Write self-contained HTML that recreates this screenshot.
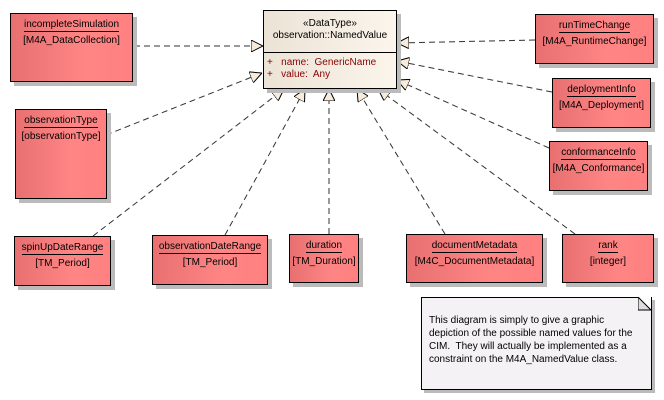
<!DOCTYPE html>
<html><head><meta charset="utf-8"><style>
body{margin:0;width:664px;height:400px;background:#fff;position:relative;overflow:hidden;font-family:"Liberation Sans",sans-serif;}
.b{position:absolute;border:1px solid #000;background:linear-gradient(90deg,#e87070,#ff8585 60%,#ff8080);box-shadow:4px 4px 0 #bbb;text-align:center;font-size:10px;color:#000;box-sizing:border-box;}
.b .t{display:inline-block;border-bottom:1px solid #000;margin-top:5px;line-height:12px;}
.b .s{margin-top:3px;line-height:12px;}
svg{position:absolute;left:0;top:0;}
</style></head><body>
<svg width="664" height="400">
<defs><marker id="a" viewBox="0 0 12 12" refX="12" refY="6" markerWidth="12" markerHeight="12" markerUnits="userSpaceOnUse" orient="auto"><path d="M0,0 L12,6 L0,12 Z" fill="#f7ecdc" stroke="#000" stroke-width="1"/></marker></defs>
<g stroke="#333" stroke-width="1" stroke-dasharray="6,4" fill="none" marker-end="url(#a)">
<line x1="134" y1="46" x2="263" y2="46"/>
<line x1="106" y1="135" x2="262" y2="73"/>
<line x1="93" y1="236" x2="284" y2="89"/>
<line x1="225" y1="235" x2="305" y2="89"/>
<line x1="329" y1="234" x2="329" y2="89"/>
<line x1="445" y1="234" x2="357" y2="89"/>
<line x1="575" y1="234" x2="378" y2="89"/>
<line x1="549" y1="148" x2="397" y2="80"/>
<line x1="552" y1="92" x2="397" y2="61"/>
<line x1="535" y1="40" x2="397" y2="43"/>
</g>
</svg>
<div style="position:absolute;left:263px;top:10px;width:134px;height:79px;border:1px solid #000;background:linear-gradient(90deg,#ece3d6,#fbf5ec);box-shadow:4px 4px 0 #bbb;box-sizing:border-box;font-size:10px;">
<div style="text-align:center;height:42px;border-bottom:1px solid #000;line-height:12px;padding-top:7px;box-sizing:border-box;">«DataType»<br>observation::NamedValue</div>
<div style="color:#8b0000;padding:4px 0 0 3px;line-height:12px;">+&nbsp;&nbsp;&nbsp;name:&nbsp; GenericName<br>+&nbsp;&nbsp;&nbsp;value:&nbsp; Any</div>
</div>
<div class="b" style="left:10px;top:13px;width:123px;height:69px"><div class="t">incompleteSimulation</div><div class="s">[M4A_DataCollection]</div></div>
<div class="b" style="left:535px;top:14px;width:119px;height:50px"><div class="t">runTimeChange</div><div class="s">[M4A_RuntimeChange]</div></div>
<div class="b" style="left:552px;top:78px;width:99px;height:50px"><div class="t">deploymentInfo</div><div class="s">[M4A_Deployment]</div></div>
<div class="b" style="left:549px;top:141px;width:99px;height:50px"><div class="t">conformanceInfo</div><div class="s">[M4A_Conformance]</div></div>
<div class="b" style="left:15px;top:109px;width:92px;height:90px"><div class="t">observationType</div><div class="s">[observationType]</div></div>
<div class="b" style="left:14px;top:236px;width:97px;height:50px"><div class="t">spinUpDateRange</div><div class="s">[TM_Period]</div></div>
<div class="b" style="left:152px;top:235px;width:116px;height:50px"><div class="t">observationDateRange</div><div class="s">[TM_Period]</div></div>
<div class="b" style="left:289px;top:234px;width:70px;height:49px"><div class="t">duration</div><div class="s">[TM_Duration]</div></div>
<div class="b" style="left:406px;top:234px;width:137px;height:49px"><div class="t">documentMetadata</div><div class="s">[M4C_DocumentMetadata]</div></div>
<div class="b" style="left:562px;top:234px;width:92px;height:49px"><div class="t">rank</div><div class="s">[integer]</div></div>
<div style="position:absolute;left:421px;top:297px;width:231px;height:93px;border:1px solid #000;background:#f5f2f5;box-shadow:3px 3px 0 #bbb;box-sizing:border-box;font-size:10px;line-height:13px;padding:16px 0 0 7px;white-space:nowrap;">This diagram is simply to give a graphic<br>depiction of the possible named values for the<br>CIM.&nbsp; They will actually be implemented as a<br>constraint on the M4A_NamedValue class.
<svg width="14" height="14" style="left:auto;right:-1px;top:-1px;"><path d="M0,0 L13,13 L13,0 Z" fill="#fff"/><path d="M0,0 L0,13 L13,13 Z" fill="#ddd" stroke="#000" stroke-width="1"/></svg></div>
</body></html>
